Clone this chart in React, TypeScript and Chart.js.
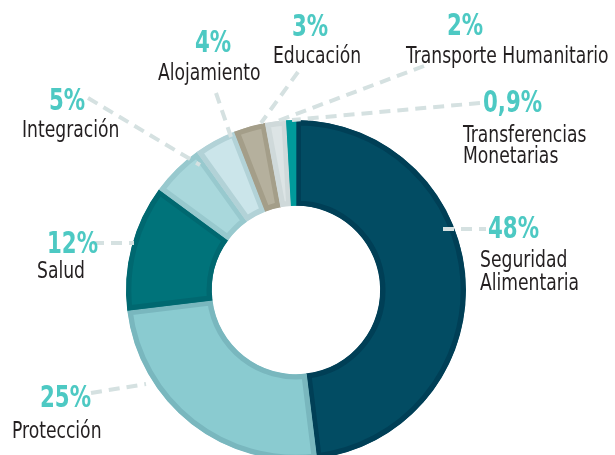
import React, { useEffect, useRef } from "react";
import { Chart, ArcElement, DoughnutController } from "chart.js";

Chart.register(ArcElement, DoughnutController);

const categories = [
  "Seguridad Alimentaria",
  "Protección",
  "Salud",
  "Integración",
  "Alojamiento",
  "Educación",
  "Transporte Humanitario",
  "Transferencias Monetarias",
];
const values = [48, 25, 12, 5, 4, 3, 2, 0.9];
const percentLabels = ["48%", "25%", "12%", "5%", "4%", "3%", "2%", "0,9%"];
const nameLines = [
  ["Seguridad", "Alimentaria"],
  ["Protección"],
  ["Salud"],
  ["Integración"],
  ["Alojamiento"],
  ["Educación"],
  ["Transporte Humanitario"],
  ["Transferencias", "Monetarias"],
];
const fillColors = ["#024c63", "#8acbd0", "#00737a", "#a9d8dc", "#cbe5ea", "#b5b09d", "#dce4e5", "#009a9b"];
const borderColors = ["#003f56", "#79b7be", "#006870", "#98c9ce", "#b2d2d7", "#a49e89", "#cfd9da", "#009a9b"];

// label layout (pixel positions of text and leader lines)
const layout = [
  { px: 488, py: 238, nx: 480, ny: 267, lh: 23, l: [443, 229, 486, 229] },
  { px: 40, py: 407, nx: 12, ny: 438, lh: 23, l: [91, 393, 146, 384] },
  { px: 47, py: 253, nx: 37, ny: 278, lh: 23, l: [93, 243, 134, 243] },
  { px: 49, py: 110, nx: 22, ny: 137, lh: 23, l: [88, 98, 200, 165] },
  { px: 195, py: 52, nx: 158, ny: 80, lh: 23, l: [216, 93, 231, 137] },
  { px: 292, py: 36, nx: 273, ny: 63, lh: 23, l: [298, 72, 261, 123] },
  { px: 447, py: 35, nx: 406, ny: 63, lh: 23, l: [424, 66, 275, 122] },
  { px: 483, py: 112, nx: 463, ny: 142, lh: 21, l: [480, 103, 292, 120] },
];

const FONT = "'DejaVu Sans Condensed', 'DejaVu Sans', sans-serif";
const PCT_SCALE = 0.79;
const NAME_SCALE = 0.83;

function drawScaled(ctx: CanvasRenderingContext2D, text: string, x: number, y: number, sx: number) {
  ctx.save();
  ctx.translate(x, y);
  ctx.scale(sx, 1);
  ctx.fillText(text, 0, 0);
  ctx.restore();
}

const labelsPlugin = {
  id: "customLabels",
  afterDraw(chart: any) {
    const ctx = chart.ctx as CanvasRenderingContext2D;
    ctx.save();
    ctx.setLineDash([11, 7]);
    ctx.lineWidth = 4;
    ctx.strokeStyle = "#d5e1e1";
    layout.forEach((p) => {
      ctx.beginPath();
      ctx.moveTo(p.l[0], p.l[1]);
      ctx.lineTo(p.l[2], p.l[3]);
      ctx.stroke();
    });
    ctx.setLineDash([]);
    ctx.textBaseline = "alphabetic";
    ctx.textAlign = "left";
    layout.forEach((p, i) => {
      ctx.fillStyle = "#4dc9c3";
      ctx.font = `bold 30px ${FONT}`;
      drawScaled(ctx, percentLabels[i], p.px, p.py, PCT_SCALE);
      ctx.fillStyle = "#231f20";
      ctx.font = `23px ${FONT}`;
      nameLines[i].forEach((line, j) => {
        drawScaled(ctx, line, p.nx, p.ny + j * p.lh, NAME_SCALE);
      });
    });
    ctx.restore();
  },
};

export default function App() {
  const ref = useRef<HTMLCanvasElement>(null);
  useEffect(() => {
    document.body.style.margin = "0";
    const chart = new Chart(ref.current!, {
      type: "doughnut",
      data: {
        labels: categories,
        datasets: [
          {
            data: values,
            backgroundColor: fillColors,
            borderColor: borderColors,
            borderWidth: 5,
            borderAlign: "inner",
          } as any,
        ],
      },
      options: {
        responsive: false,
        animation: false,
        cutout: "49.5%",
        layout: { padding: { left: 126, right: 149, top: 120, bottom: 20 } },
        plugins: { legend: { display: false }, tooltip: { enabled: false } },
      } as any,
      plugins: [labelsPlugin],
    });
    return () => chart.destroy();
  }, []);
  return (
    <div style={{ width: 615, height: 455, overflow: "hidden", background: "#fff" }}>
      <canvas ref={ref} width={615} height={480} style={{ display: "block" }} />
    </div>
  );
}
